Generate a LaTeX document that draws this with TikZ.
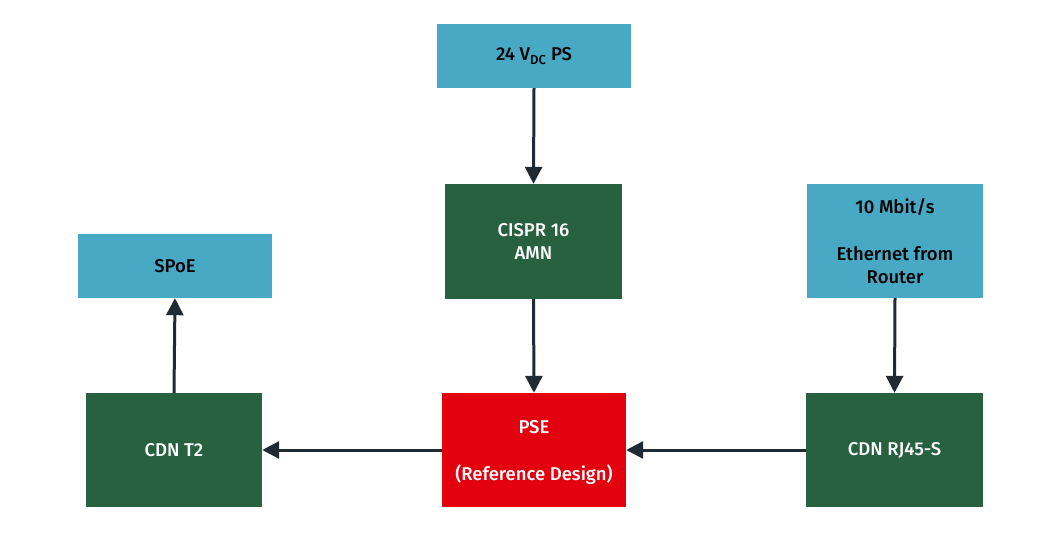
\documentclass[tikz,border=0pt]{standalone}
\usepackage{fontspec}
\setmainfont{Fira Sans}[UprightFont=* Medium]
\usetikzlibrary{arrows.meta}
\definecolor{cblue}{HTML}{48A9C5}
\definecolor{cgreen}{HTML}{276140}
\definecolor{cred}{HTML}{E3000F}
\definecolor{cline}{HTML}{1F2A33}
\begin{document}
\begin{tikzpicture}[x=1pt,y=-1pt,
  box/.style={rectangle, inner sep=0pt, align=center, font=\fontsize{18.5}{23.5}\selectfont},
  bluebox/.style={box, fill=cblue, text=black},
  greenbox/.style={box, fill=cgreen, text=white},
  redbox/.style={box, fill=cred, text=white},
  conn/.style={draw=cline, line width=3pt, -{Triangle[length=17pt,width=17pt]}, color=cline}]
\useasboundingbox (0,0) rectangle (1047,533);
\node[bluebox, minimum width=194pt, minimum height=64pt] (ps) at (534,56) {24 V\textsubscript{DC} PS};
\node[greenbox, minimum width=177pt, minimum height=115pt] (amn) at (533.5,241.5) {CISPR 16\\AMN};
\node[bluebox, minimum width=176pt, minimum height=114pt] (eth) at (895,241) {10 Mbit/s\\[23.5pt]Ethernet from\\Router};
\node[bluebox, minimum width=194pt, minimum height=64pt] (spoe) at (175,266) {SPoE};
\node[greenbox, minimum width=176pt, minimum height=114pt] (t2) at (174,450) {CDN T2};
\node[redbox, minimum width=184pt, minimum height=114pt] (pse) at (534,450) {\rule{0pt}{18pt}PSE\\[23.5pt](Reference Design)};
\node[greenbox, minimum width=177pt, minimum height=114pt] (rj) at (894.5,450) {CDN RJ45-S};
\draw[conn] (ps.south) -- (amn.north);
\draw[conn] (amn.south) -- (pse.north);
\draw[conn] (eth.south) -- (rj.north);
\draw[conn] (rj.west) -- (pse.east);
\draw[conn] (pse.west) -- (t2.east);
\draw[conn] (t2.north) -- (spoe.south);
\end{tikzpicture}
\end{document}
